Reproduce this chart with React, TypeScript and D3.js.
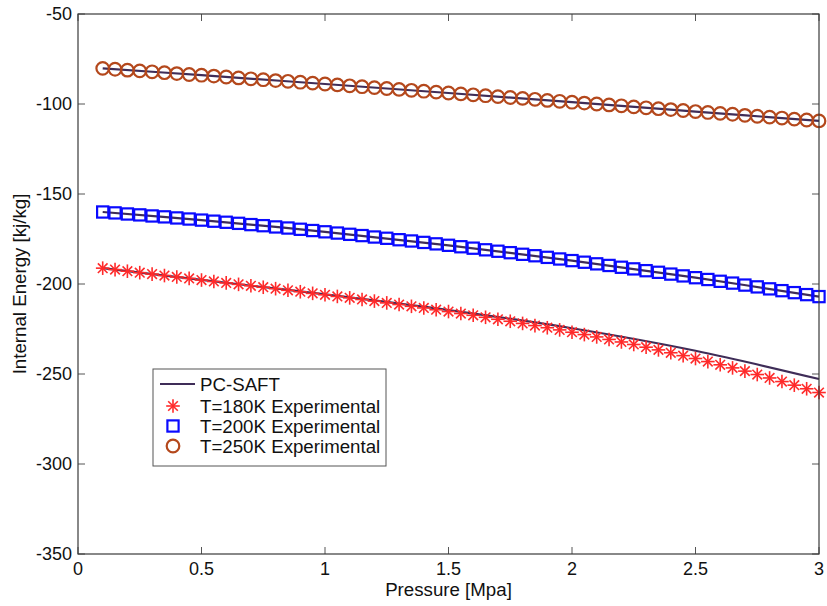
import React from "react";
import * as d3 from "d3";

// Pressure grid of the experimental points [MPa]
const pressure: number[] = [
  0.1, 0.15, 0.2, 0.25, 0.3, 0.35, 0.4, 0.45, 0.5, 0.55, 0.6, 0.65, 0.7, 0.75, 0.8, 0.85, 0.9, 0.95, 1.0, 1.05,
  1.1, 1.15, 1.2, 1.25, 1.3, 1.35, 1.4, 1.45, 1.5, 1.55, 1.6, 1.65, 1.7, 1.75, 1.8, 1.85, 1.9, 1.95, 2.0, 2.05,
  2.1, 2.15, 2.2, 2.25, 2.3, 2.35, 2.4, 2.45, 2.5, 2.55, 2.6, 2.65, 2.7, 2.75, 2.8, 2.85, 2.9, 2.95, 3.0,
];

const exp180: number[] = [
  -191.2, -192.0, -192.9, -193.7, -194.5, -195.3, -196.1, -196.9, -197.8, -198.6, -199.4, -200.2, -201.0, -201.8, -202.6, -203.5, -204.3, -205.2, -206.0, -206.9,
  -207.7, -208.6, -209.5, -210.5, -211.4, -212.4, -213.3, -214.3, -215.3, -216.4, -217.4, -218.5, -219.6, -220.7, -221.9, -223.1, -224.3, -225.5, -226.8, -228.1,
  -229.4, -230.8, -232.2, -233.6, -235.1, -236.6, -238.2, -239.8, -241.4, -243.1, -244.9, -246.6, -248.4, -250.3, -252.2, -254.2, -256.2, -258.2, -260.3,
];

const exp200: number[] = [
  -160.0, -160.5, -161.1, -161.6, -162.2, -162.7, -163.3, -163.9, -164.5, -165.1, -165.7, -166.3, -167.0, -167.6, -168.3, -168.9, -169.6, -170.3, -171.0, -171.7,
  -172.4, -173.1, -173.9, -174.6, -175.4, -176.1, -176.9, -177.7, -178.5, -179.3, -180.1, -181.0, -181.8, -182.6, -183.5, -184.3, -185.2, -186.1, -187.0, -187.9,
  -188.8, -189.7, -190.7, -191.6, -192.6, -193.5, -194.5, -195.5, -196.5, -197.5, -198.5, -199.5, -200.6, -201.6, -202.7, -203.7, -204.8, -205.9, -207.0,
];

const exp250: number[] = [
  -80.2, -80.7, -81.2, -81.6, -82.1, -82.6, -83.1, -83.6, -84.0, -84.5, -85.0, -85.5, -86.0, -86.5, -87.0, -87.4, -87.9, -88.4, -88.9, -89.4,
  -89.9, -90.4, -90.9, -91.4, -91.9, -92.4, -92.9, -93.4, -93.9, -94.4, -94.9, -95.4, -95.9, -96.4, -96.9, -97.4, -98.0, -98.5, -99.0, -99.5,
  -100.0, -100.5, -101.0, -101.6, -102.1, -102.6, -103.1, -103.6, -104.2, -104.7, -105.2, -105.7, -106.3, -106.8, -107.3, -107.8, -108.4, -108.9, -109.4,
];

// PC-SAFT model curves
const modelP: number[] = [0.1, 0.5, 1.0, 1.5, 2.0, 2.5, 3.0];
const model180: number[] = [-191.2, -197.7, -205.8, -214.5, -224.6, -237.1, -252.8];
const model200: number[] = [-160.0, -164.5, -171.0, -178.5, -187.0, -196.5, -207.0];
const model250: number[] = [-80.2, -84.0, -88.9, -93.9, -99.0, -104.2, -109.4];

const xTicks: number[] = [0, 0.5, 1, 1.5, 2, 2.5, 3];
const yTicks: number[] = [-350, -300, -250, -200, -150, -100, -50];

const legendLabels: string[] = ["PC-SAFT", "T=180K Experimental", "T=200K Experimental", "T=250K Experimental"];

const W = 827;
const H = 606;
const M = { left: 78, right: 819, top: 14, bottom: 554 };
const FONT = "'Liberation Sans', Arial, Helvetica, sans-serif";
const LINE_COLOR = "#3f2d58";
const RED = "#ff2a2a";
const BLUE = "#0a0aff";
const BROWN = "#b4481c";

function Star({ x, y, r }: { x: number; y: number; r: number }) {
  const d = r * Math.SQRT1_2;
  return (
    <g stroke={RED} strokeWidth={1.6}>
      <line x1={x - r} y1={y} x2={x + r} y2={y} />
      <line x1={x} y1={y - r} x2={x} y2={y + r} />
      <line x1={x - d} y1={y - d} x2={x + d} y2={y + d} />
      <line x1={x - d} y1={y + d} x2={x + d} y2={y - d} />
    </g>
  );
}

export default function App() {
  const x = d3.scaleLinear().domain([0, 3]).range([M.left, M.right]);
  const y = d3.scaleLinear().domain([-350, -50]).range([M.bottom, M.top]);

  const line = d3
    .line<[number, number]>()
    .x((d) => x(d[0]))
    .y((d) => y(d[1]))
    .curve(d3.curveCatmullRom.alpha(0.5));

  const models = [model180, model200, model250];
  const tickLen = 7;

  const lx = 153;
  const ly = 369;
  const lw = 233;
  const lh = 97;
  const rowY = [384, 406, 426, 446];

  return (
    <svg
      width={W}
      height={H}
      style={{ position: "absolute", left: 0, top: 0, background: "#fff" }}
      fontFamily={FONT}
    >
      <rect x={0} y={0} width={W} height={H} fill="#fff" />
      {/* ticks */}
      <g stroke="#555" strokeWidth={1}>
        {xTicks.map((t) => (
          <g key={"xt" + t}>
            <line x1={x(t)} x2={x(t)} y1={M.bottom} y2={M.bottom - tickLen} />
            <line x1={x(t)} x2={x(t)} y1={M.top} y2={M.top + tickLen} />
          </g>
        ))}
        {yTicks.map((t) => (
          <g key={"yt" + t}>
            <line x1={M.left} x2={M.left + tickLen} y1={y(t)} y2={y(t)} />
            <line x1={M.right} x2={M.right - tickLen} y1={y(t)} y2={y(t)} />
          </g>
        ))}
      </g>
      {/* model lines */}
      {models.map((m, i) => (
        <path
          key={"m" + i}
          d={line(modelP.map((p, j) => [p, m[j]] as [number, number])) || ""}
          fill="none"
          stroke={LINE_COLOR}
          strokeWidth={2.2}
        />
      ))}
      {/* markers */}
      {pressure.map((p, i) => (
        <Star key={"s" + i} x={x(p)} y={y(exp180[i])} r={6.8} />
      ))}
      {pressure.map((p, i) => (
        <rect
          key={"q" + i}
          x={x(p) - 5.6}
          y={y(exp200[i]) - 5.6}
          width={11.2}
          height={11.2}
          fill="none"
          stroke={BLUE}
          strokeWidth={2.2}
        />
      ))}
      {pressure.map((p, i) => (
        <circle key={"c" + i} cx={x(p)} cy={y(exp250[i])} r={6.3} fill="none" stroke={BROWN} strokeWidth={2.2} />
      ))}
      {/* axes box */}
      <rect
        x={M.left}
        y={M.top}
        width={M.right - M.left}
        height={M.bottom - M.top}
        fill="none"
        stroke="#3a3a3a"
        strokeWidth={1.2}
      />
      {/* tick labels */}
      <g fontSize={18} fill="#111">
        {xTicks.map((t) => (
          <text key={"xl" + t} x={x(t)} y={575} textAnchor="middle">
            {String(t)}
          </text>
        ))}
        {yTicks.map((t) => (
          <text key={"yl" + t} x={72} y={y(t)} dy="0.36em" textAnchor="end">
            {String(t)}
          </text>
        ))}
      </g>
      {/* axis labels */}
      <text x={(M.left + M.right) / 2} y={596} textAnchor="middle" fontSize={18.7} fill="#111">
        Pressure [Mpa]
      </text>
      <text
        transform={`translate(26, ${(M.top + M.bottom) / 2}) rotate(-90)`}
        textAnchor="middle"
        fontSize={18.7}
        fill="#111"
      >
        Internal Energy [kj/kg]
      </text>
      {/* legend */}
      <rect x={lx} y={ly} width={lw} height={lh} fill="#fff" stroke="#555" strokeWidth={1} />
      <line x1={160} x2={195} y1={rowY[0]} y2={rowY[0]} stroke={LINE_COLOR} strokeWidth={2.2} />
      <Star x={173} y={rowY[1]} r={6.8} />
      <rect x={173 - 5.6} y={rowY[2] - 5.6} width={11.2} height={11.2} fill="none" stroke={BLUE} strokeWidth={2.2} />
      <circle cx={173} cy={rowY[3]} r={6.3} fill="none" stroke={BROWN} strokeWidth={2.2} />
      <g fontSize={18.7} fill="#111">
        {legendLabels.map((l, i) => (
          <text key={"lg" + i} x={200} y={rowY[i]} dy="0.36em">
            {l}
          </text>
        ))}
      </g>
    </svg>
  );
}
